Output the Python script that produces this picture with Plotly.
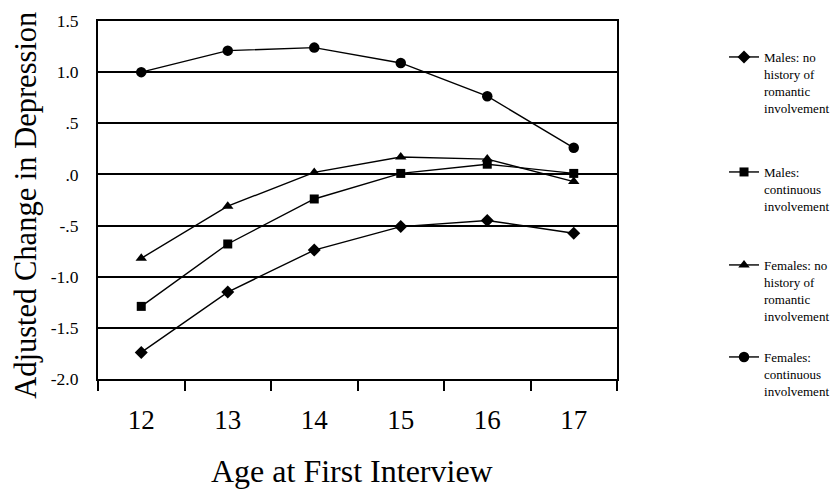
import plotly.graph_objects as go

ages = ["12", "13", "14", "15", "16", "17"]
males_no_history = [-1.74, -1.15, -0.74, -0.51, -0.45, -0.575]
males_continuous = [-1.29, -0.68, -0.24, 0.01, 0.10, 0.01]
females_no_history = [-0.82, -0.31, 0.02, 0.17, 0.15, -0.07]
females_continuous = [1.00, 1.21, 1.24, 1.09, 0.765, 0.26]

y_tickvals = [1.5, 1.0, 0.5, 0.0, -0.5, -1.0, -1.5, -2.0]
y_ticktext = ["1.5", "1.0", ".5", ".0", "-.5", "-1.0", "-1.5", "-2.0"]

series = [
    ("Males: no<br>history of<br>romantic<br>involvement", males_no_history, "diamond", 10, "legend", 0.9296),
    ("Males:<br>continuous<br>involvement", males_continuous, "square", 9, "legend2", 0.6915),
    ("Females: no<br>history of<br>romantic<br>involvement", females_no_history, "triangle-up", 10, "legend3", 0.499),
    ("Females:<br>continuous<br>involvement", females_continuous, "circle", 10.5, "legend4", 0.3085),
]

SERIF = "Liberation Serif"

fig = go.Figure()
layout_legends = {}
for name, vals, sym, size, lg, ly in series:
    fig.add_trace(go.Scatter(
        x=ages, y=vals, name=name, mode="lines+markers",
        line=dict(color="black", width=1.4),
        marker=dict(symbol=sym, size=size, color="black"),
        legend=lg,
    ))
    layout_legends[lg] = dict(
        xref="container", yref="container",
        x=0.8606, xanchor="left", y=ly, yanchor="top",
        font=dict(family=SERIF, size=13, color="black"),
        bgcolor="rgba(0,0,0,0)", itemwidth=30, valign="top",
        tracegroupgap=0,
    )

fig.update_layout(
    width=832, height=483,
    margin=dict(l=90, r=223, t=13, b=112),
    paper_bgcolor="white", plot_bgcolor="white",
    font=dict(family=SERIF, color="black"),
    showlegend=True,
    **layout_legends,
)

fig.add_annotation(
    text="Age at First Interview", xref="paper", yref="paper",
    x=0.49, y=-0.257, xanchor="center", yanchor="middle", showarrow=False,
    font=dict(family=SERIF, size=32, color="black"),
)
fig.add_annotation(
    text="Adjusted Change in Depression", xref="paper", yref="paper",
    x=-0.138, y=0.485, xanchor="center", yanchor="middle", showarrow=False,
    textangle=-90,
    font=dict(family=SERIF, size=30.5, color="black"),
)

fig.update_xaxes(
    type="category", range=[-0.5, 5.5], tickson="boundaries",
    ticks="outside", ticklen=10,
    tickwidth=2, tickcolor="black", automargin=False,
    showline=True, linecolor="black", linewidth=2, mirror=True,
    showgrid=False, ticklabelstandoff=16,
    tickfont=dict(family=SERIF, size=27, color="black"),
)
fig.update_yaxes(
    range=[-2.0, 1.5], tickvals=y_tickvals, ticktext=y_ticktext,
    showgrid=True, gridcolor="black", gridwidth=2, automargin=False,
    zeroline=True, zerolinecolor="black", zerolinewidth=2,
    showline=True, linecolor="black", linewidth=2, mirror=True,
    ticks="", ticklabelstandoff=14,
    tickfont=dict(family=SERIF, size=17.5, color="black"),
)

fig.write_html("out.html")
